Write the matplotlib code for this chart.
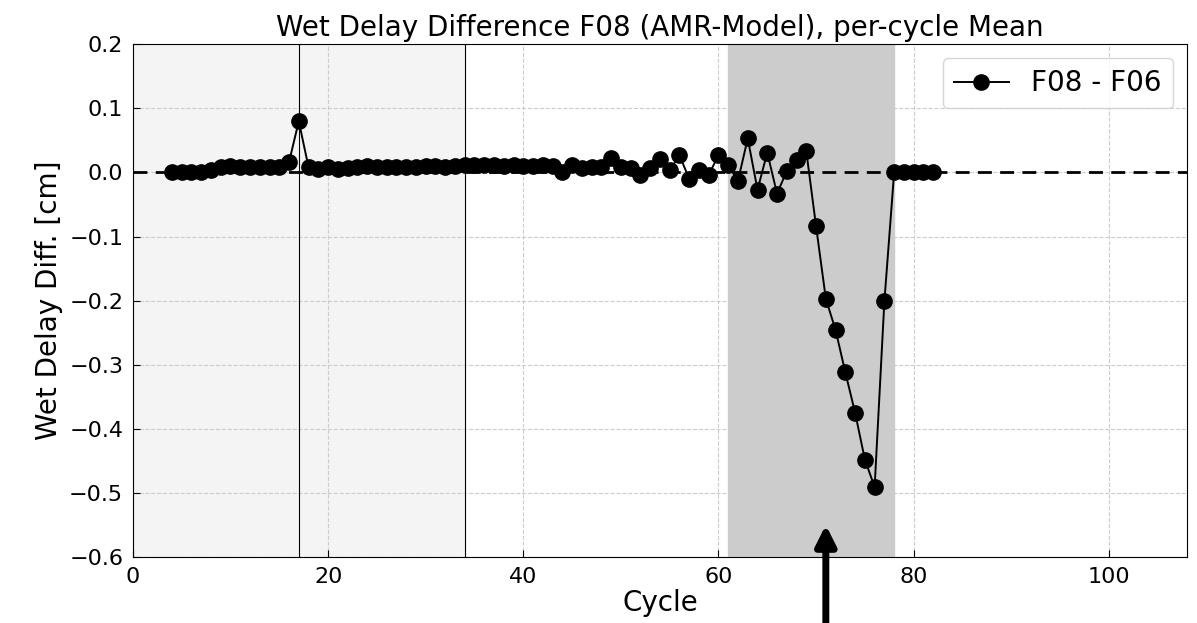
import matplotlib
matplotlib.use("Agg")
import matplotlib.pyplot as plt
import numpy as np

# ================= 数据 =================
cycles = list(range(4, 83))
wet_diff = [
    0.000, 0.000, 0.000, 0.000, 0.003, 0.008, 0.010, 0.008, 0.008, 0.008,   # 4-13
    0.008, 0.008, 0.016, 0.080, 0.008, 0.006, 0.008, 0.005, 0.007, 0.008,   # 14-23
    0.010, 0.008, 0.008, 0.008, 0.008, 0.009, 0.010, 0.010, 0.008, 0.010,   # 24-33
    0.011, 0.011, 0.011, 0.011, 0.010, 0.011, 0.010, 0.010, 0.011, 0.010,   # 34-43
    0.001, 0.012, 0.007, 0.008, 0.009, 0.023, 0.009, 0.007, -0.004, 0.007,  # 44-53
    0.021, 0.003, 0.027, -0.010, 0.004, -0.004, 0.027, 0.011, -0.013, 0.053,  # 54-63
    -0.027, 0.031, -0.033, 0.002, 0.019, 0.033, -0.084, -0.197, -0.246, -0.312,  # 64-73
    -0.375, -0.448, -0.491, -0.201, 0.000, 0.000, 0.000, 0.000, 0.000,     # 74-82
]
series_label = "F08 - F06"
light_span = (0, 34)
dark_span = (61, 78)
vlines_x = [17, 34]
arrow_cycle = 71
# ========================================


def plot_wet_delay():
    fig = plt.figure(figsize=(11.97, 6.23), dpi=100)
    ax = fig.add_axes([0.111, 0.106, 0.8806, 0.823])

    # 背景区域（浅灰在网格下方，深灰盖住网格）
    ax.axvspan(*light_span, color="#f4f4f4", zorder=0)
    ax.axvspan(*dark_span, color="#cccccc", zorder=1)
    for xv in vlines_x:
        ax.axvline(xv, color="black", linewidth=0.8, zorder=1.5)

    ax.axhline(0, color="black", linestyle="--", linewidth=2, dashes=(5, 3), zorder=2)
    ax.plot(cycles, wet_diff, "-o", color="black", markersize=11, linewidth=1.4,
            label=series_label, zorder=3)

    ax.set_xlim(0, 108)
    ax.set_ylim(-0.6, 0.2)
    ax.set_xticks([0, 20, 40, 60, 80, 100])
    ax.set_yticks(np.arange(-0.6, 0.21, 0.1))
    ax.grid(True, linestyle="--", color="#cccccc", linewidth=0.8, zorder=0.5)
    ax.set_axisbelow(True)
    ax.tick_params(direction="in", labelsize=16, length=5, pad=7)

    ax.set_title("Wet Delay Difference F08 (AMR-Model), per-cycle Mean", fontsize=20)
    ax.set_xlabel("Cycle", fontsize=20, labelpad=2)
    ax.set_ylabel("Wet Delay Diff. [cm]", fontsize=20)
    ax.legend(loc="upper right", fontsize=20, borderpad=0.4, handlelength=2.0)

    # 底部指向箭头
    ax.annotate("", xy=(arrow_cycle, -0.55), xytext=(arrow_cycle, -0.75),
                annotation_clip=False,
                arrowprops=dict(arrowstyle="-|>,head_width=0.3,head_length=0.6",
                                mutation_scale=20, color="black", linewidth=5,
                                shrinkA=0, shrinkB=0))

    plt.savefig("out.png", dpi=100)


if __name__ == "__main__":
    plot_wet_delay()
